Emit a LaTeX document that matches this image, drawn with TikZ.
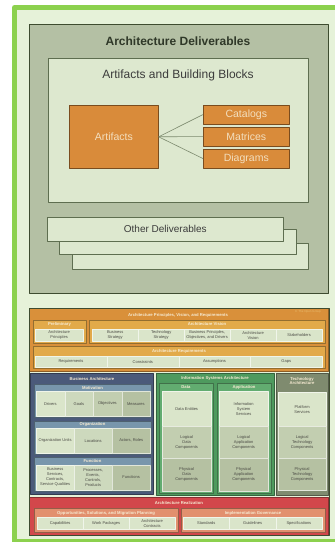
\documentclass[tikz,border=0pt]{standalone}
\usepackage{fontspec}
\setmainfont{Liberation Sans}
\usetikzlibrary{positioning}
\definecolor{framegreen}{HTML}{8CD14E}
\definecolor{framefill}{HTML}{E6F2D9}
\definecolor{delivfill}{HTML}{B4C0A4}
\definecolor{delivline}{HTML}{3E4C30}
\definecolor{abbfill}{HTML}{DDE8CF}
\definecolor{abbline}{HTML}{5E6E50}
\definecolor{artfill}{HTML}{D98B3A}
\definecolor{artline}{HTML}{7A4C1E}
\definecolor{arttext}{HTML}{F3DFBF}
\definecolor{linkgray}{HTML}{7C8A6E}
\definecolor{darktext}{HTML}{2F3828}
\definecolor{midtext}{HTML}{3C3C3C}
\definecolor{apvrfill}{HTML}{D9903A}
\definecolor{apvrsub}{HTML}{E2AA4A}
\definecolor{bafill}{HTML}{4B5A7A}
\definecolor{basub}{HTML}{7896AC}
\definecolor{isafill}{HTML}{4E9A5E}
\definecolor{isasub}{HTML}{62AC70}
\definecolor{tafill}{HTML}{7F8B6F}
\definecolor{arfill}{HTML}{D2474B}
\definecolor{arsub}{HTML}{E2906E}
\definecolor{headtext}{HTML}{F6EAD2}
\definecolor{celltext}{HTML}{4A4A44}
\definecolor{cellA}{HTML}{DAE5CA}
\definecolor{cellB}{HTML}{CDD9BD}
\definecolor{cellC}{HTML}{C2CEB0}
\definecolor{cellD}{HTML}{B5C1A2}
\newcommand\headfont{\fontsize{4.2}{4.8}\selectfont\bfseries}
\newcommand\cellfont{\fontsize{4}{5}\selectfont}
\tikzset{
	panel/.style={draw=#1!65!black,fill=#1,anchor=north west,inner sep=0pt,line width=.6pt},
	cell/.style={fill=#1,draw=white!60!#1,line width=.3pt,anchor=north west,inner sep=0pt,
		align=center,text=celltext,font=\cellfont},
	head/.style={text=headtext,font=\headfont,align=center,inner sep=0pt},
	wh/.style 2 args={minimum width=#1pt,minimum height=#2pt}
}
\begin{document}
\begin{tikzpicture}[x=1pt,y=-1pt,line join=round]
	\useasboundingbox (0,0) rectangle (335,542);
	\clip (0,0) rectangle (335,542);
	\fill[white] (0,0) rectangle (335,542);
	\draw[framegreen,fill=framefill,line width=4.8pt] (14.4,7.4) rectangle (345,541.4);
	% architecture deliverables
	\node[panel=delivfill,draw=delivline,line width=1pt,wh={299}{269}] (deliv) at (29,24) {};
	\node[font=\fontsize{12}{14}\selectfont\bfseries,text=darktext] (delivtitle) at (178,41) {Architecture Deliverables};
	\node[panel=abbfill,draw=abbline,line width=.8pt,wh={260}{144}] (abb) at (48,58) {};
	\node[font=\fontsize{12}{14}\selectfont,text=midtext] (abbtitle) at (178,75) {Artifacts and Building Blocks};
	\node[panel=artfill,draw=artline,wh={89}{63},font=\fontsize{10.5}{12}\selectfont,text=arttext,anchor=north west] (art) at (69,105) {};
	\node[font=\fontsize{10.5}{12}\selectfont,text=arttext] (arttitle) at (art.center) {Artifacts};
	\foreach \n/\t/\y in {cat/Catalogs/105,mat/Matrices/127,dia/Diagrams/149}{
		\node[panel=artfill,draw=artline,wh={86}{18.5},font=\fontsize{10.5}{12}\selectfont,text=arttext] (\n) at (203,\y) {\t};
		\draw[linkgray,line width=.6pt] (art.east)--(\n.west);
	}
	\node[panel=abbfill,draw=abbline,wh={236}{26}] (od3) at (72,243) {};
	\node[panel=abbfill,draw=abbline,wh={237}{25}] (od2) at (59,229) {};
	\node[panel=abbfill,draw=abbline,wh={236}{24},font=\fontsize{10}{12}\selectfont,text=midtext] (od1) at (47,217) {Other Deliverables};
	% architecture content framework
	\node[panel=apvrfill,wh={299}{63}] (apvr) at (29,308) {};
	\node[head] (apvrtitle) at (178,315) {Architecture Principles, Vision, and Requirements};
	\node[text=apvrsub!80!white,font=\fontsize{3}{3.5}\selectfont] (copy) at (308,312) {\textcopyright{} The Open Group};
	\node[panel=apvrsub,wh={53}{23}] (prelim) at (33,320) {};
	\node[head] (prelimtitle) at (59.5,324) {Preliminary};
	\node[cell=cellA,wh={48}{12}] (prelim0) at (35,329) {Architecture\\Principles};
	\node[panel=apvrsub,wh={236}{23}] (vision) at (89,320) {};
	\node[head] (visiontitle) at (207,324) {Architecture Vision};
	\foreach \t [count=\i from 0] in {{Business\\Strategy},{Technology\\Strategy},{Business Principles,\\Objectives, and Drivers},{Architecture\\Vision},Stakeholders}
		\node[cell=cellA,wh={46}{12}] (vision\i) at (92+46*\i,329) {\t};
	\node[panel=apvrsub,wh={292}{22}] (req) at (33,346) {};
	\node[head] (reqtitle) at (179,351.5) {Architecture Requirements};
	\foreach \t [count=\i from 0] in {Requirements,Constraints,Assumptions,Gaps}
		\node[cell=cellA,wh={71.75}{11}] (req\i) at (35+71.75*\i,356) {\t};
	% business architecture
	\node[panel=bafill,wh={123}{121}] (ba) at (30,373) {};
	\node[head] (batitle) at (92,379) {Business Architecture};
	\node[panel=basub,wh={117}{33}] (mot) at (34,384) {};
	\node[head] (mottitle) at (92.5,387.5) {Motivation};
	\foreach \t/\c [count=\i from 0] in {Drivers/cellA,Goals/cellB,Objectives/cellC,Measures/cellD}
		\node[cell=\c,wh={28.5}{25}] (mot\i) at (36+28.5*\i,391) {\t};
	\node[panel=basub,wh={117}{33}] (org) at (34,421) {};
	\node[head] (orgtitle) at (92.5,424.5) {Organization};
	\foreach \t/\c [count=\i from 0] in {Organization Units/cellA,Locations/cellB,{Actors, Roles}/cellD}
		\node[cell=\c,wh={38}{25}] (org\i) at (36+38*\i,428) {\t};
	\node[panel=basub,wh={117}{34}] (fun) at (34,457) {};
	\node[head] (funtitle) at (92.5,461) {Function};
	\foreach \t/\c [count=\i from 0] in {{Business\\Services,\\Contracts,\\Service Qualities}/cellA,{Processes,\\Events,\\Controls,\\Products}/cellB,Functions/cellD}
		\node[cell=\c,wh={38}{24.5}] (fun\i) at (36+38*\i,465) {\t};
	% information systems architecture
	\node[panel=isafill,wh={118}{122}] (isa) at (156,373) {};
	\node[head] (isatitle) at (215,378) {Information Systems Architecture};
	\foreach \n/\t/\x in {data/Data/159,app/Application/217}{
		\node[panel=isasub,wh={54}{110}] (\n) at (\x,383) {};
		\node[head] (\n title) at (\x+27,387) {\t};
	}
	\foreach \t/\c/\y/\h [count=\i from 0] in {{Data Entities}/cellA/391/35,{Logical\\Data\\Components}/cellC/426/32,{Physical\\Data\\Components}/cellD/458/33}
		\node[cell=\c,wh={49}{\h}] (data\i) at (162,\y) {\t};
	\foreach \t/\c/\y/\h [count=\i from 0] in {{Information\\System\\Services}/cellA/391/35,{Logical\\Application\\Components}/cellC/426/32,{Physical\\Application\\Components}/cellD/458/33}
		\node[cell=\c,wh={49}{\h}] (app\i) at (219,\y) {\t};
	% technology architecture
	\node[panel=tafill,wh={52}{122}] (ta) at (276,373) {};
	\node[head] (tatitle) at (302,381) {Technology\\Architecture};
	\foreach \t/\c/\y/\h [count=\i from 0] in {{Platform\\Services}/cellA/392/34,{Logical\\Technology\\Components}/cellC/426/32,{Physical\\Technology\\Components}/cellD/458/32}
		\node[cell=\c,wh={48}{\h}] (ta\i) at (278,\y) {\t};
	% architecture realization
	\node[panel=arfill,wh={299}{38}] (ar) at (29,497) {};
	\node[head] (artitle) at (179,503) {Architecture Realization};
	\node[panel=arsub,wh={144}{24}] (ospm) at (34,508) {};
	\node[head] (ospmtitle) at (106,513) {Opportunities, Solutions, and Migration Planning};
	\foreach \t [count=\i from 0] in {Capabilities,Work Packages,{Architecture\\Contracts}}
		\node[cell=cellA,wh={46}{12}] (ospm\i) at (37+46*\i,517) {\t};
	\node[panel=arsub,wh={144}{24}] (ig) at (181,508) {};
	\node[head] (igtitle) at (253,513) {Implementation Governance};
	\foreach \t [count=\i from 0] in {Standards,Guidelines,Specifications}
		\node[cell=cellA,wh={46.3}{12}] (ig\i) at (183+46.3*\i,517) {\t};
	\node[draw=delivline,line width=.6pt,anchor=north west,inner sep=0pt,wh={300}{227}] (content) at (29,308) {};
\end{tikzpicture}
\end{document}
